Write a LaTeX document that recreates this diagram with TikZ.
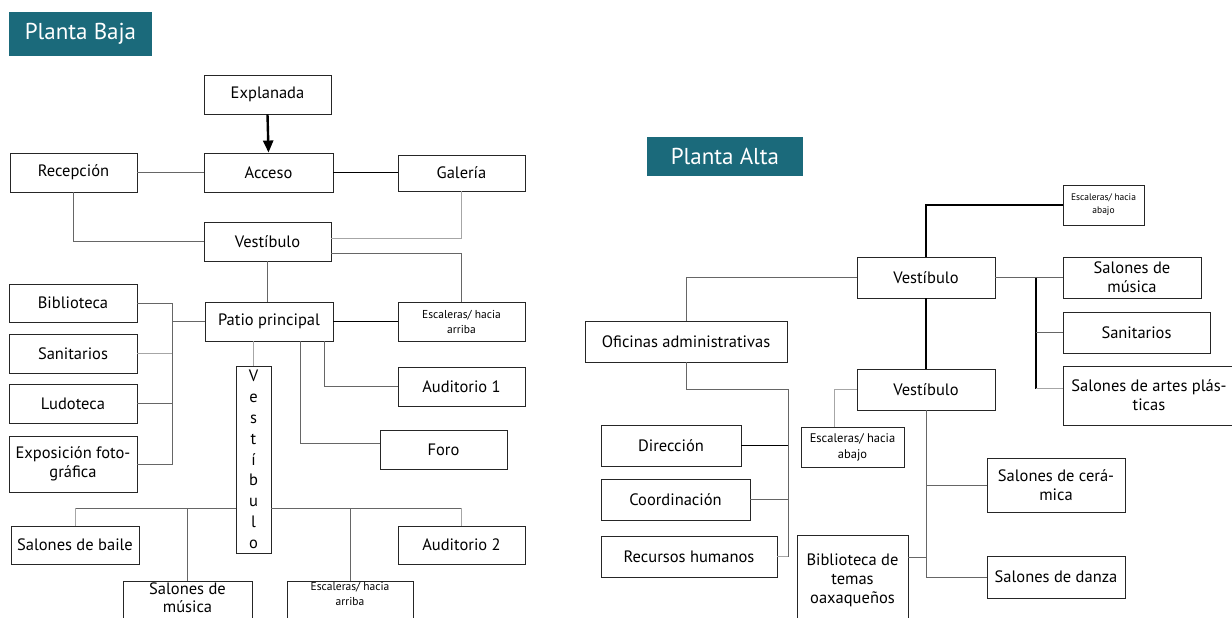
\documentclass[tikz,border=0pt]{standalone}
\usepackage{fontspec}
\setmainfont{PT Sans}
\usetikzlibrary{arrows.meta}
\definecolor{tealhead}{HTML}{1B6A7B}
\tikzset{
    sala/.style={draw=black!85, line width=0.9pt, fill=white, align=center, inner sep=1pt, font=\fontsize{16.5}{19}\selectfont},
    salachica/.style={sala, font=\fontsize{11.5}{15}\selectfont},
    titulo/.style={fill=tealhead, text=white, inner sep=0pt, font=\fontsize{23}{27}\selectfont},
    liga/.style={draw=black!60, line width=0.8pt},
    ligafuerte/.style={draw=black, line width=1.3pt},
    ligaclara/.style={draw=black!35, line width=1pt}
}
\begin{document}
\begin{tikzpicture}[x=1pt,y=-1pt]
    \useasboundingbox (0,0) rectangle (1232,618);
    \fill[white] (0,0) rectangle (1232,618);

% planta baja
    \node[titulo, minimum width=143pt, minimum height=44pt] (baja) at (80.5,34) {Planta Baja};
    \node[sala, minimum width=127pt, minimum height=39pt] (expl) at (267.5,94.5) {Explanada};
    \node[sala, minimum width=127pt, minimum height=39pt] (recep) at (73.5,172.5) {Recepción};
    \node[sala, minimum width=129pt, minimum height=39pt] (acceso) at (268.5,172.5) {Acceso};
    \node[sala, minimum width=127pt, minimum height=36pt] (galeria) at (461.5,173) {Galería};
    \node[sala, minimum width=127pt, minimum height=39pt] (vest) at (267.5,241.5) {Vestíbulo};
    \node[sala, minimum width=128pt, minimum height=38pt] (bibl) at (73,303) {Biblioteca};
    \node[sala, minimum width=128pt, minimum height=39pt] (sanit) at (73,353.5) {Sanitarios};
    \node[sala, minimum width=128pt, minimum height=39pt] (ludo) at (73,403.5) {Ludoteca};
    \node[sala, minimum width=128pt, minimum height=56pt] (expo) at (73,464) {Exposición foto-\\gráfica};
    \node[sala, minimum width=128pt, minimum height=39pt] (patio) at (269,321.5) {Patio principal};
    \node[salachica, minimum width=127pt, minimum height=39pt] (escA) at (461.5,321.5) {Escaleras/ hacia\\arriba};
    \node[sala, minimum width=127pt, minimum height=39pt] (aud1) at (461.5,386.5) {Auditorio 1};
    \node[sala, minimum width=127pt, minimum height=39pt] (foro) at (443.5,449.5) {Foro};
    \node[sala, minimum width=35pt, minimum height=187pt, inner sep=0pt, font=\fontsize{16.5}{20.8}\selectfont] (vvert) at (253.5,459.5) {V\\e\\s\\t\\í\\b\\u\\l\\o};
    \node[sala, minimum width=128pt, minimum height=38pt] (baile) at (75,545) {Salones de baile};
    \node[sala, minimum width=127pt, minimum height=38pt] (aud2) at (461.5,545) {Auditorio 2};
    \node[sala, font=\fontsize{16.5}{18}\selectfont, minimum width=129pt, text depth=40pt, anchor=north] (musicaB) at (187.5,581) {Salones de\\música};
    \node[salachica, minimum width=126pt, text depth=40pt, anchor=north] (escB) at (350,581) {Escaleras/ hacia\\arriba};

    \coordinate (busL) at (172,0);
    \coordinate (busB) at (0,508);

    \draw[-{Triangle[length=12pt,width=10pt]}, line width=2.4pt] (expl.south) -- (acceso.north);
    \draw[liga] (recep.east) -- (acceso.west);
    \draw[ligafuerte] (acceso.east) -- (acceso.east -| galeria.west);
    \draw[liga] (recep.south) |- (vest.west);
    \draw[ligaclara] (galeria.south) |- ([yshift=3pt]vest.east);
    \draw[liga] ([yshift=-12pt]vest.east) -| (escA.north);
    \draw[liga] (vest.south) -- (vest.south |- patio.north);
    \draw[liga] (patio.west) -- (patio.west -| busL);
    \draw[liga] (bibl.east) -- (bibl.east -| busL) -- (expo.east -| busL) -- (expo.east);
    \draw[ligaclara] (sanit.east) -- (sanit.east -| busL);
    \draw[liga] (ludo.east) -- (ludo.east -| busL);
    \draw[ligafuerte] (patio.east) -- (escA.west);
    \draw[liga] ([xshift=55pt]patio.south) |- (aud1.west);
    \draw[liga] ([xshift=31pt]patio.south) |- ([yshift=6pt]foro.west);
    \draw[ligaclara] (patio.south -| vvert.north) -- (vvert.north);
    \draw[liga] (baile.north |- busB) -- (vvert.west |- busB);
    \draw[liga] (vvert.east |- busB) -- (aud2.north |- busB);
    \draw[ligaclara] (baile.north |- busB) -- (baile.north);
    \draw[liga] (musicaB.north |- busB) -- (musicaB.north);
    \draw[liga] (escB.north |- busB) -- (escB.north);
    \draw[ligaclara] (aud2.north |- busB) -- (aud2.north);

% planta alta
    \node[titulo, minimum width=156pt, minimum height=39pt] (alta) at (725,156.5) {Planta Alta};
    \node[sala, font=\fontsize{9.5}{13}\selectfont, minimum width=81pt, minimum height=40pt] (escTop) at (1103.5,205) {Escaleras/ hacia\\abajo};
    \node[sala, minimum width=138pt, minimum height=41pt] (vestA) at (926,277.5) {Vestíbulo};
    \node[sala, minimum width=138pt, minimum height=41pt] (musicaA) at (1132,277.5) {Salones de\\música};
    \node[sala, minimum width=147pt, minimum height=41pt] (sanitA) at (1136.5,332.5) {Sanitarios};
    \node[sala, minimum width=172pt, minimum height=59pt] (artes) at (1149,395.5) {Salones de artes plás-\\ticas};
    \node[sala, minimum width=202pt, minimum height=41pt] (ofic) at (686,341.5) {Oficinas administrativas};
    \node[sala, minimum width=138pt, minimum height=41pt] (vestA2) at (926,389.5) {Vestíbulo};
    \node[sala, font=\fontsize{12.5}{16}\selectfont, minimum width=103pt, minimum height=40pt] (escLow) at (852.5,447) {Escaleras/ hacia\\abajo};
    \node[sala, minimum width=140pt, minimum height=41pt] (direc) at (671,445.5) {Dirección};
    \node[sala, minimum width=149pt, minimum height=41pt] (coord) at (675.5,499.5) {Coordinación};
    \node[sala, minimum width=176pt, minimum height=41pt] (rrhh) at (689,556.5) {Recursos humanos};
    \node[sala, minimum width=111pt, minimum height=90pt] (bibA) at (852.5,580) {Biblioteca de\\temas\\oaxaqueños};
    \node[sala, minimum width=138pt, minimum height=54pt] (ceram) at (1056,485) {Salones de cerá-\\mica};
    \node[sala, minimum width=138pt, minimum height=42pt] (danza) at (1056,577) {Salones de danza};

    \coordinate (busR) at (1036,0);
    \coordinate (busO) at (788,0);

    \draw[ligafuerte] (vestA.north) |- (escTop.west);
    \draw[liga] (vestA.west) -| (ofic.north);
    \draw[liga] (vestA.east) -- (musicaA.west);
    \draw[ligafuerte] (vestA.east -| busR) -- ([yshift=7pt]artes.west -| busR);
    \draw[liga] (sanitA.west -| busR) -- (sanitA.west);
    \draw[ligaclara] ([yshift=7pt]artes.west -| busR) -- ([yshift=7pt]artes.west);
    \draw[ligafuerte] (vestA.south) -- (vestA2.north);
    \draw[liga] (ofic.south) |- (vestA2.west -| busO) -- (rrhh.east -| busO);
    \draw[ligafuerte] (direc.east) -- (direc.east -| busO);
    \draw[liga] (coord.east) -- (coord.east -| busO);
    \draw[ligaclara] (rrhh.east) -- (rrhh.east -| busO);
    \draw[ligaclara, line width=1.6pt] (vestA2.west) -| ([xshift=-18pt]escLow.north);
    \draw[liga] (vestA2.south) -- (vestA2.south |- danza.west) -- (danza.west);
    \draw[liga] (vestA2.south |- ceram.west) -- (ceram.west);
    \draw[liga] ([yshift=23pt]bibA.east) -- ([yshift=23pt]bibA.east -| vestA2.south);

\end{tikzpicture}
\end{document}
